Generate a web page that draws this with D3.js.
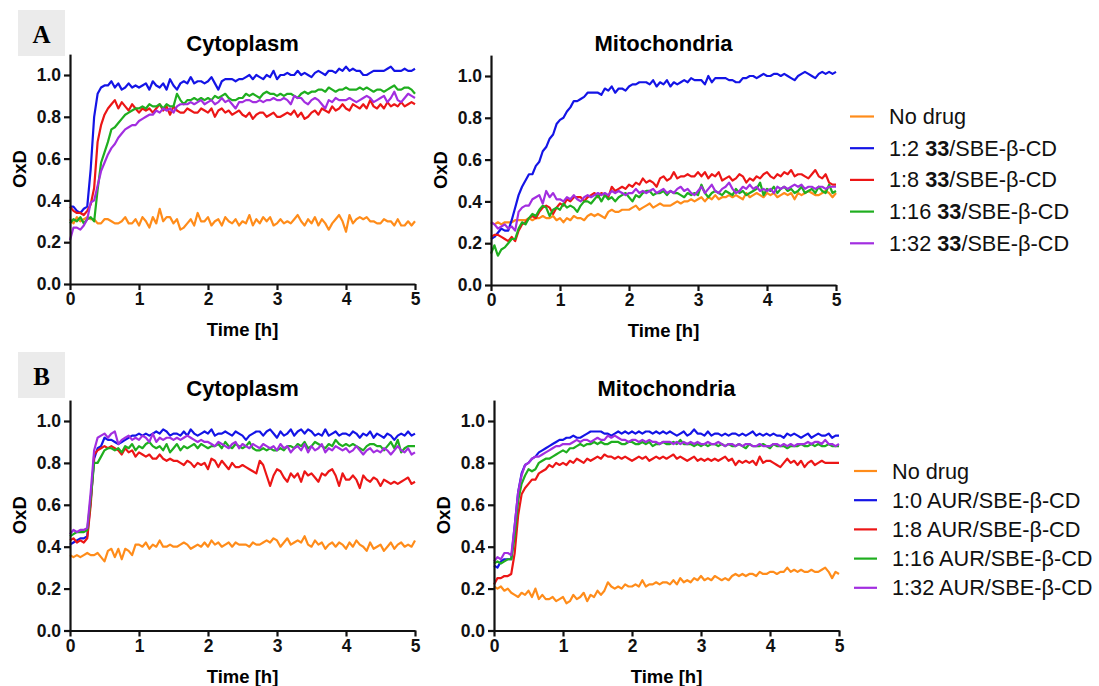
<!DOCTYPE html>
<html>
<head>
<meta charset="utf-8" />
<title>OxD time course</title>
<style>
  body { margin: 0; background: #fff; }
  svg text { font-family: "Liberation Sans", Arial, sans-serif; }
</style>
</head>
<body>
<svg id="fig" width="1099" height="686"></svg>
<script src="https://cdn.jsdelivr.net/npm/d3@7"></script>
<script>
// sampling every 3 min (0.05 h), 101 points
var timeH = d3.range(101).map(function(i) { return i / 20; });

var xTicks = [0, 1, 2, 3, 4, 5];
var yTicks = [0, 0.2, 0.4, 0.6, 0.8, 1.0];
var seriesColors = ["#ff8c1a", "#1414e6", "#ec1616", "#1fae1f", "#a22ee0"];

var legendA = [["No drug"], ["1:2 ", "33", "/SBE-β-CD"], ["1:8 ", "33", "/SBE-β-CD"],
               ["1:16 ", "33", "/SBE-β-CD"], ["1:32 ", "33", "/SBE-β-CD"]];
var legendB = ["No drug", "1:0 AUR/SBE-β-CD", "1:8 AUR/SBE-β-CD", "1:16 AUR/SBE-β-CD", "1:32 AUR/SBE-β-CD"];

// ---- A, cytoplasm
var aCytoNoDrug = [0.31,0.29,0.32,0.30,0.31,0.32,0.31,0.31,0.29,0.29, 0.31,0.31,0.30,0.29,0.29,0.30,0.32,0.29,0.29,0.31,
  0.28,0.32,0.30,0.27,0.32,0.29,0.36,0.30,0.32,0.32, 0.29,0.31,0.26,0.27,0.29,0.31,0.28,0.34,0.30,0.30,
  0.32,0.28,0.30,0.31,0.28,0.32,0.30,0.29,0.31,0.28, 0.30,0.29,0.33,0.28,0.31,0.29,0.32,0.30,0.32,0.28,
  0.29,0.31,0.29,0.30,0.29,0.31,0.33,0.30,0.28,0.31, 0.29,0.32,0.28,0.31,0.29,0.26,0.29,0.31,0.33,0.30,
  0.25,0.33,0.29,0.31,0.32,0.31,0.32,0.30,0.30,0.29, 0.29,0.31,0.30,0.30,0.28,0.31,0.28,0.28,0.30,0.28, 0.30];
var aCyto1to2 = [0.37,0.37,0.35,0.34,0.36,0.37,0.55,0.80,0.91,0.94, 0.95,0.95,0.97,0.94,0.96,0.93,0.94,0.96,0.94,0.95,
  0.94,0.95,0.96,0.93,0.97,0.95,0.94,0.96,0.93,0.98, 0.95,0.93,0.96,0.97,0.96,0.99,0.96,0.97,0.97,0.96,
  0.97,0.99,0.96,0.93,0.97,0.98,0.98,0.98,0.97,0.98, 0.98,0.99,1.00,0.98,1.00,0.99,0.98,1.00,0.99,1.02,
  0.98,1.00,1.00,1.01,1.00,1.00,1.02,1.00,1.01,1.00, 0.99,1.01,1.02,1.01,1.00,1.02,1.02,1.01,1.03,1.02,
  1.04,1.02,1.03,1.02,1.02,1.00,1.00,1.01,1.02,1.02, 1.02,1.02,1.03,1.04,1.02,1.02,1.02,1.03,1.02,1.02, 1.03];
var aCyto1to8 = [0.37,0.35,0.34,0.34,0.33,0.35,0.38,0.46,0.68,0.76, 0.81,0.84,0.86,0.88,0.84,0.87,0.85,0.83,0.86,0.84,
  0.82,0.84,0.83,0.84,0.82,0.84,0.86,0.83,0.85,0.81, 0.85,0.83,0.82,0.82,0.84,0.83,0.82,0.82,0.84,0.83,
  0.82,0.84,0.80,0.83,0.84,0.82,0.83,0.81,0.82,0.83, 0.81,0.80,0.82,0.79,0.81,0.82,0.82,0.80,0.81,0.82,
  0.80,0.80,0.81,0.82,0.81,0.83,0.80,0.82,0.79,0.80, 0.82,0.83,0.81,0.84,0.83,0.82,0.85,0.83,0.84,0.86,
  0.84,0.83,0.86,0.85,0.84,0.86,0.84,0.88,0.85,0.84, 0.86,0.84,0.87,0.85,0.86,0.85,0.87,0.85,0.86,0.87, 0.86];
var aCyto1to16 = [0.29,0.31,0.30,0.32,0.29,0.31,0.32,0.30,0.45,0.58, 0.63,0.68,0.74,0.75,0.77,0.79,0.81,0.82,0.83,0.84,
  0.84,0.85,0.84,0.86,0.85,0.85,0.86,0.84,0.86,0.85, 0.85,0.91,0.88,0.86,0.88,0.88,0.89,0.88,0.89,0.88,
  0.89,0.88,0.90,0.89,0.90,0.91,0.89,0.88,0.88,0.89, 0.89,0.91,0.90,0.91,0.90,0.89,0.91,0.92,0.91,0.91,
  0.90,0.91,0.90,0.91,0.91,0.90,0.89,0.91,0.92,0.91, 0.92,0.92,0.93,0.93,0.92,0.94,0.93,0.92,0.93,0.93,
  0.94,0.93,0.93,0.93,0.94,0.93,0.94,0.93,0.92,0.93, 0.93,0.92,0.93,0.94,0.95,0.93,0.93,0.94,0.94,0.93, 0.91];
var aCyto1to32 = [0.21,0.27,0.27,0.26,0.28,0.31,0.39,0.40,0.47,0.54, 0.58,0.62,0.65,0.67,0.70,0.72,0.74,0.75,0.76,0.76,
  0.78,0.79,0.80,0.81,0.81,0.83,0.82,0.84,0.83,0.84, 0.82,0.85,0.86,0.86,0.86,0.87,0.86,0.87,0.88,0.86,
  0.87,0.88,0.86,0.87,0.89,0.87,0.88,0.86,0.84,0.87, 0.87,0.88,0.88,0.87,0.87,0.88,0.87,0.88,0.88,0.89,
  0.88,0.88,0.89,0.88,0.86,0.90,0.89,0.89,0.87,0.86, 0.88,0.89,0.88,0.86,0.84,0.88,0.87,0.89,0.88,0.88,
  0.88,0.89,0.88,0.87,0.88,0.89,0.90,0.89,0.87,0.88, 0.89,0.90,0.87,0.89,0.92,0.88,0.87,0.89,0.91,0.90, 0.89];

// ---- A, mitochondria
var aMitoNoDrug = [0.30,0.29,0.30,0.29,0.30,0.30,0.30,0.31,0.31,0.31, 0.31,0.32,0.31,0.32,0.32,0.33,0.32,0.32,0.33,0.31,
  0.32,0.30,0.32,0.31,0.33,0.32,0.32,0.31,0.33,0.34, 0.33,0.34,0.33,0.32,0.35,0.36,0.35,0.35,0.36,0.36,
  0.36,0.37,0.38,0.36,0.37,0.38,0.39,0.37,0.38,0.39, 0.38,0.38,0.38,0.39,0.40,0.39,0.40,0.40,0.41,0.40,
  0.41,0.42,0.40,0.42,0.41,0.43,0.41,0.42,0.42,0.43, 0.42,0.43,0.42,0.41,0.44,0.42,0.43,0.44,0.43,0.42,
  0.44,0.43,0.44,0.42,0.43,0.44,0.43,0.44,0.41,0.44, 0.43,0.44,0.45,0.44,0.43,0.43,0.44,0.45,0.44,0.42, 0.44];
var aMito1to2 = [0.22,0.23,0.25,0.27,0.26,0.26,0.31,0.37,0.43,0.47, 0.50,0.53,0.53,0.57,0.59,0.64,0.66,0.70,0.72,0.77,
  0.79,0.80,0.83,0.85,0.88,0.88,0.89,0.90,0.92,0.92, 0.92,0.92,0.91,0.94,0.93,0.95,0.92,0.94,0.94,0.93,
  0.95,0.96,0.96,0.97,0.97,0.97,0.96,0.98,0.95,0.97, 0.96,0.98,0.95,0.97,0.96,0.97,0.98,0.97,0.99,0.98,
  0.98,0.98,0.96,1.00,0.97,0.99,0.99,0.99,0.99,0.98, 0.98,0.97,0.97,0.99,0.99,1.00,1.00,0.99,1.00,1.01,
  1.00,1.00,1.01,1.01,1.00,1.01,1.00,0.99,0.98,1.00, 1.01,1.02,1.01,1.00,0.99,1.01,1.02,1.01,1.02,1.01, 1.02];
var aMito1to8 = [0.23,0.24,0.24,0.23,0.22,0.21,0.23,0.21,0.26,0.29, 0.30,0.32,0.33,0.32,0.35,0.37,0.38,0.37,0.34,0.37,
  0.39,0.38,0.41,0.40,0.42,0.42,0.42,0.40,0.42,0.43, 0.44,0.42,0.44,0.43,0.42,0.47,0.45,0.46,0.47,0.46,
  0.48,0.47,0.49,0.48,0.51,0.49,0.50,0.49,0.47,0.51, 0.52,0.50,0.51,0.54,0.51,0.52,0.52,0.53,0.52,0.52,
  0.54,0.52,0.54,0.51,0.53,0.52,0.54,0.50,0.51,0.52, 0.50,0.51,0.53,0.52,0.49,0.51,0.50,0.52,0.51,0.53,
  0.54,0.52,0.51,0.53,0.52,0.54,0.53,0.55,0.52,0.53, 0.53,0.52,0.51,0.53,0.55,0.52,0.51,0.53,0.49,0.48, 0.48];
var aMito1to16 = [0.15,0.19,0.14,0.17,0.18,0.20,0.22,0.22,0.27,0.30, 0.29,0.32,0.34,0.33,0.36,0.38,0.37,0.33,0.36,0.37,
  0.36,0.39,0.37,0.38,0.37,0.35,0.38,0.40,0.40,0.39, 0.41,0.43,0.40,0.43,0.41,0.42,0.40,0.42,0.43,0.44,
  0.42,0.40,0.43,0.42,0.44,0.45,0.45,0.43,0.44,0.44, 0.45,0.43,0.45,0.44,0.44,0.43,0.42,0.44,0.43,0.44,
  0.43,0.48,0.44,0.42,0.44,0.45,0.44,0.43,0.45,0.44, 0.43,0.46,0.44,0.45,0.43,0.44,0.45,0.46,0.49,0.43,
  0.46,0.45,0.47,0.44,0.46,0.47,0.45,0.46,0.44,0.45, 0.47,0.44,0.45,0.46,0.44,0.47,0.45,0.44,0.48,0.44, 0.45];
var aMito1to32 = [0.30,0.29,0.27,0.28,0.29,0.27,0.28,0.26,0.35,0.37, 0.38,0.38,0.41,0.42,0.43,0.39,0.45,0.42,0.44,0.41,
  0.41,0.40,0.42,0.41,0.43,0.41,0.40,0.42,0.43,0.42, 0.43,0.44,0.43,0.44,0.43,0.45,0.44,0.45,0.44,0.43,
  0.44,0.44,0.46,0.44,0.45,0.44,0.45,0.46,0.44,0.45, 0.46,0.44,0.45,0.44,0.46,0.47,0.45,0.46,0.44,0.43,
  0.45,0.47,0.44,0.46,0.48,0.45,0.44,0.46,0.47,0.49, 0.46,0.44,0.45,0.47,0.46,0.48,0.46,0.47,0.45,0.46,
  0.45,0.46,0.44,0.47,0.46,0.47,0.46,0.47,0.48,0.47, 0.48,0.46,0.47,0.47,0.46,0.47,0.47,0.46,0.47,0.47, 0.47];

// ---- B, cytoplasm
var bCytoNoDrug = [0.36,0.35,0.36,0.35,0.36,0.37,0.36,0.36,0.37,0.35, 0.33,0.38,0.39,0.35,0.39,0.34,0.39,0.38,0.36,0.41,
  0.41,0.40,0.42,0.39,0.41,0.40,0.43,0.40,0.40,0.41, 0.40,0.40,0.41,0.42,0.41,0.39,0.40,0.41,0.40,0.42,
  0.40,0.43,0.41,0.42,0.40,0.41,0.42,0.40,0.42,0.41, 0.41,0.41,0.40,0.42,0.41,0.41,0.42,0.43,0.42,0.44,
  0.43,0.40,0.42,0.44,0.41,0.42,0.43,0.42,0.45,0.41, 0.40,0.43,0.41,0.42,0.39,0.41,0.42,0.40,0.42,0.41,
  0.39,0.42,0.40,0.43,0.41,0.40,0.38,0.42,0.39,0.40, 0.41,0.38,0.40,0.42,0.39,0.41,0.42,0.40,0.41,0.40, 0.43];
var bCyto1to0 = [0.41,0.42,0.43,0.44,0.44,0.45,0.62,0.82,0.87,0.88, 0.92,0.91,0.91,0.90,0.89,0.90,0.91,0.92,0.93,0.93,
  0.94,0.93,0.94,0.93,0.94,0.95,0.94,0.96,0.95,0.93, 0.94,0.94,0.93,0.95,0.93,0.96,0.94,0.93,0.94,0.95,
  0.94,0.96,0.93,0.94,0.94,0.95,0.94,0.93,0.95,0.94, 0.93,0.91,0.93,0.94,0.95,0.95,0.93,0.95,0.96,0.94,
  0.92,0.95,0.93,0.94,0.96,0.93,0.95,0.96,0.94,0.96, 0.95,0.93,0.94,0.93,0.96,0.93,0.94,0.95,0.93,0.94,
  0.94,0.93,0.95,0.94,0.92,0.94,0.93,0.95,0.92,0.94, 0.93,0.92,0.94,0.93,0.91,0.93,0.94,0.93,0.95,0.93, 0.94];
var bCyto1to8 = [0.43,0.44,0.42,0.43,0.42,0.44,0.60,0.84,0.86,0.87, 0.88,0.87,0.88,0.87,0.86,0.84,0.87,0.85,0.86,0.83,
  0.85,0.84,0.83,0.84,0.82,0.82,0.84,0.82,0.81,0.82, 0.81,0.81,0.80,0.79,0.81,0.80,0.78,0.80,0.79,0.80,
  0.77,0.82,0.81,0.78,0.81,0.79,0.77,0.80,0.78,0.78, 0.79,0.78,0.77,0.76,0.75,0.81,0.79,0.74,0.69,0.74,
  0.77,0.76,0.73,0.71,0.75,0.73,0.75,0.71,0.76,0.74, 0.75,0.73,0.71,0.75,0.74,0.76,0.77,0.74,0.69,0.75,
  0.72,0.72,0.74,0.72,0.68,0.74,0.72,0.71,0.73,0.72, 0.69,0.72,0.71,0.70,0.71,0.70,0.71,0.72,0.73,0.70, 0.71];
var bCyto1to16 = [0.45,0.46,0.47,0.47,0.47,0.48,0.63,0.80,0.80,0.83, 0.86,0.87,0.87,0.86,0.87,0.85,0.88,0.87,0.89,0.86,
  0.88,0.87,0.89,0.90,0.88,0.87,0.88,0.86,0.89,0.85, 0.87,0.89,0.86,0.88,0.87,0.88,0.89,0.87,0.89,0.88,
  0.87,0.88,0.88,0.89,0.87,0.90,0.88,0.87,0.89,0.88, 0.87,0.88,0.90,0.87,0.86,0.86,0.87,0.86,0.87,0.86,
  0.86,0.87,0.86,0.88,0.88,0.87,0.89,0.88,0.90,0.87, 0.88,0.90,0.89,0.88,0.87,0.89,0.88,0.91,0.89,0.88,
  0.89,0.88,0.89,0.88,0.87,0.86,0.88,0.89,0.89,0.88, 0.88,0.86,0.88,0.90,0.87,0.91,0.85,0.87,0.88,0.88, 0.88];
var bCyto1to32 = [0.46,0.48,0.47,0.48,0.48,0.49,0.66,0.86,0.92,0.93, 0.94,0.92,0.94,0.95,0.89,0.91,0.92,0.93,0.91,0.92,
  0.91,0.93,0.92,0.90,0.94,0.90,0.92,0.91,0.92,0.92, 0.91,0.92,0.91,0.92,0.93,0.92,0.91,0.90,0.91,0.90,
  0.90,0.89,0.88,0.90,0.89,0.88,0.87,0.89,0.90,0.87, 0.89,0.88,0.87,0.89,0.88,0.87,0.89,0.88,0.87,0.88,
  0.86,0.89,0.87,0.88,0.85,0.87,0.88,0.86,0.89,0.85, 0.88,0.86,0.87,0.89,0.85,0.87,0.86,0.88,0.87,0.86,
  0.87,0.85,0.86,0.88,0.86,0.84,0.86,0.87,0.85,0.86, 0.85,0.87,0.86,0.84,0.86,0.88,0.86,0.85,0.87,0.84, 0.85];

// ---- B, mitochondria
var bMitoNoDrug = [0.21,0.20,0.21,0.19,0.20,0.18,0.17,0.16,0.18,0.17, 0.19,0.16,0.20,0.15,0.17,0.15,0.15,0.16,0.14,0.15,
  0.16,0.13,0.14,0.17,0.15,0.16,0.18,0.14,0.17,0.16, 0.19,0.17,0.19,0.23,0.21,0.20,0.21,0.20,0.22,0.21,
  0.21,0.22,0.21,0.24,0.21,0.22,0.22,0.23,0.22,0.23, 0.23,0.22,0.24,0.22,0.25,0.23,0.24,0.23,0.25,0.24,
  0.26,0.24,0.25,0.24,0.26,0.25,0.24,0.25,0.24,0.26, 0.27,0.26,0.27,0.26,0.27,0.27,0.26,0.28,0.27,0.27,
  0.28,0.28,0.27,0.28,0.28,0.30,0.28,0.29,0.28,0.29, 0.28,0.28,0.29,0.28,0.28,0.29,0.30,0.28,0.25,0.28, 0.27];
var bMito1to0 = [0.31,0.30,0.33,0.34,0.34,0.34,0.50,0.66,0.75,0.79, 0.80,0.82,0.83,0.85,0.86,0.87,0.88,0.89,0.90,0.91,
  0.91,0.92,0.92,0.93,0.92,0.92,0.93,0.94,0.95,0.95, 0.95,0.95,0.94,0.94,0.93,0.94,0.95,0.94,0.95,0.94,
  0.95,0.94,0.95,0.94,0.95,0.95,0.94,0.95,0.94,0.95, 0.94,0.95,0.94,0.93,0.94,0.95,0.93,0.94,0.96,0.94,
  0.94,0.93,0.95,0.93,0.94,0.94,0.93,0.94,0.93,0.94, 0.94,0.93,0.94,0.93,0.94,0.95,0.93,0.94,0.93,0.94,
  0.93,0.94,0.93,0.93,0.92,0.94,0.93,0.94,0.93,0.92, 0.93,0.94,0.92,0.93,0.94,0.93,0.93,0.94,0.92,0.93, 0.93];
var bMito1to8 = [0.22,0.25,0.25,0.26,0.26,0.27,0.37,0.55,0.65,0.68, 0.70,0.72,0.72,0.75,0.76,0.77,0.79,0.78,0.80,0.79,
  0.80,0.79,0.81,0.80,0.82,0.81,0.80,0.82,0.81,0.82, 0.83,0.82,0.84,0.83,0.83,0.82,0.83,0.82,0.83,0.82,
  0.81,0.82,0.83,0.82,0.83,0.81,0.82,0.83,0.82,0.83, 0.82,0.83,0.84,0.82,0.83,0.82,0.81,0.82,0.83,0.81,
  0.82,0.81,0.82,0.81,0.82,0.81,0.82,0.83,0.81,0.82, 0.79,0.81,0.80,0.81,0.80,0.81,0.79,0.83,0.80,0.81,
  0.81,0.80,0.79,0.78,0.80,0.82,0.80,0.81,0.79,0.81, 0.78,0.80,0.81,0.79,0.80,0.81,0.80,0.80,0.80,0.80, 0.80];
var bMito1to16 = [0.32,0.33,0.32,0.33,0.34,0.34,0.45,0.62,0.70,0.74, 0.77,0.76,0.77,0.80,0.81,0.82,0.82,0.83,0.84,0.85,
  0.86,0.85,0.87,0.87,0.88,0.89,0.88,0.89,0.89,0.90, 0.89,0.90,0.89,0.89,0.90,0.90,0.90,0.89,0.89,0.90,
  0.90,0.89,0.89,0.90,0.89,0.90,0.88,0.89,0.89,0.90, 0.89,0.89,0.90,0.89,0.91,0.89,0.89,0.89,0.88,0.89,
  0.88,0.89,0.88,0.89,0.89,0.88,0.89,0.88,0.89,0.88, 0.88,0.89,0.88,0.87,0.89,0.88,0.88,0.88,0.89,0.88,
  0.87,0.89,0.88,0.88,0.88,0.87,0.88,0.88,0.88,0.89, 0.88,0.88,0.89,0.88,0.89,0.88,0.88,0.89,0.88,0.88, 0.88];
var bMito1to32 = [0.33,0.35,0.34,0.37,0.37,0.36,0.50,0.66,0.74,0.79, 0.80,0.82,0.83,0.83,0.84,0.85,0.86,0.87,0.88,0.88,
  0.89,0.89,0.89,0.90,0.91,0.90,0.91,0.91,0.90,0.91, 0.92,0.91,0.91,0.93,0.92,0.93,0.92,0.91,0.91,0.90,
  0.91,0.91,0.90,0.91,0.90,0.91,0.90,0.90,0.89,0.90, 0.90,0.90,0.89,0.90,0.89,0.90,0.89,0.90,0.89,0.90,
  0.89,0.89,0.90,0.89,0.89,0.90,0.89,0.88,0.89,0.89, 0.88,0.89,0.88,0.89,0.89,0.88,0.88,0.89,0.88,0.88,
  0.88,0.89,0.89,0.88,0.89,0.88,0.89,0.88,0.89,0.89, 0.89,0.90,0.89,0.90,0.90,0.89,0.91,0.89,0.89,0.88, 0.89];

var svg = d3.select("#fig");

function drawPanel(p) {
  var x = d3.scaleLinear().domain([0, 5]).range([p.left, p.right]);
  var y = d3.scaleLinear().domain([0, 1.1]).range([p.zero, p.zero - 1.1 * p.unit]);
  var g = svg.append("g");

  var line = d3.line()
    .x(function(d, i) { return x(timeH[i]); })
    .y(function(d) { return y(d); });

  p.series.forEach(function(s, k) {
    g.append("path")
      .attr("d", line(s))
      .attr("fill", "none")
      .attr("stroke", seriesColors[k])
      .attr("stroke-width", 2.2)
      .attr("stroke-linejoin", "round");
  });

  var xAxis = g.append("g")
    .attr("transform", "translate(0," + p.zero + ")")
    .call(d3.axisBottom(x).tickValues(xTicks).tickFormat(d3.format("d")).tickSize(6).tickSizeOuter(0).tickPadding(3));
  var yAxis = g.append("g")
    .attr("transform", "translate(" + p.left + ",0)")
    .call(d3.axisLeft(y).tickValues(yTicks).tickFormat(d3.format(".1f")).tickSize(6).tickSizeOuter(0).tickPadding(3));

  [xAxis, yAxis].forEach(function(a) {
    a.select(".domain").attr("stroke", "#111").attr("stroke-width", 2.2);
    a.selectAll(".tick line").attr("stroke", "#111").attr("stroke-width", 2.2);
    a.selectAll(".tick text")
      .attr("fill", "#111")
      .style("font-size", "17.5px")
      .style("font-weight", "bold")
      .style("font-family", "'Liberation Sans', Arial, sans-serif");
  });

  g.append("text")
    .attr("x", (p.left + p.right) / 2)
    .attr("y", p.titleY)
    .attr("text-anchor", "middle")
    .style("font-size", "22px")
    .style("font-weight", "bold")
    .text(p.title);

  g.append("text")
    .attr("x", (p.left + p.right) / 2)
    .attr("y", p.zero + 52)
    .attr("text-anchor", "middle")
    .style("font-size", "18.5px")
    .style("font-weight", "bold")
    .text("Time [h]");

  g.append("text")
    .attr("transform", "translate(" + (p.left - 44) + "," + (p.zero - 0.55 * p.unit) + ") rotate(-90)")
    .attr("text-anchor", "middle")
    .style("font-size", "18.5px")
    .style("font-weight", "bold")
    .text("OxD");
}

drawPanel({ left: 70, right: 415, zero: 284, unit: 209, title: "Cytoplasm", titleY: 50.5,
  series: [aCytoNoDrug, aCyto1to2, aCyto1to8, aCyto1to16, aCyto1to32] });
drawPanel({ left: 491, right: 836, zero: 285, unit: 209, title: "Mitochondria", titleY: 50.5,
  series: [aMitoNoDrug, aMito1to2, aMito1to8, aMito1to16, aMito1to32] });
drawPanel({ left: 70, right: 415, zero: 630.5, unit: 209.5, title: "Cytoplasm", titleY: 396,
  series: [bCytoNoDrug, bCyto1to0, bCyto1to8, bCyto1to16, bCyto1to32] });
drawPanel({ left: 494, right: 839, zero: 630.5, unit: 209.5, title: "Mitochondria", titleY: 396,
  series: [bMitoNoDrug, bMito1to0, bMito1to8, bMito1to16, bMito1to32] });

// panel letters
[["A", 10], ["B", 352]].forEach(function(L) {
  svg.append("rect").attr("x", 18).attr("y", L[1]).attr("width", 47).attr("height", 46).attr("fill", "#ebebeb");
  svg.append("text")
    .attr("x", 41.5).attr("y", L[1] + 33)
    .attr("text-anchor", "middle")
    .style("font-family", "'Liberation Serif', 'Times New Roman', serif")
    .style("font-weight", "bold")
    .style("font-size", "25px")
    .text(L[0]);
});

// legend A (with bold compound number)
var legA = svg.append("g");
legendA.forEach(function(parts, i) {
  var yy = 116.5 + i * 31.7;
  legA.append("line").attr("x1", 850).attr("x2", 874).attr("y1", yy).attr("y2", yy)
    .attr("stroke", seriesColors[i]).attr("stroke-width", 2.2);
  var t = legA.append("text").attr("x", 889).attr("y", yy + 7.5).style("font-size", "21.7px").attr("fill", "#111");
  parts.forEach(function(s, j) {
    t.append("tspan").style("font-weight", j === 1 ? "bold" : "normal").text(s);
  });
});

// legend B
var legB = svg.append("g");
legendB.forEach(function(s, i) {
  var yy = 471 + i * 29.2;
  legB.append("line").attr("x1", 854).attr("x2", 877).attr("y1", yy).attr("y2", yy)
    .attr("stroke", seriesColors[i]).attr("stroke-width", 2.2);
  legB.append("text").attr("x", 892).attr("y", yy + 7.5).style("font-size", "21.7px").attr("fill", "#111").text(s);
});
</script>
</body>
</html>
